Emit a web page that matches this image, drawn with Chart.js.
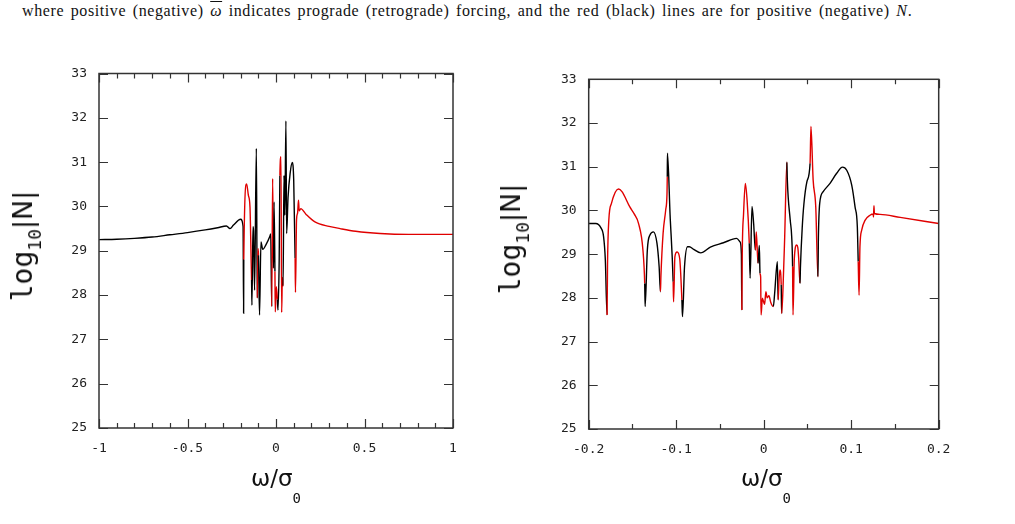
<!DOCTYPE html>
<html>
<head>
<meta charset="utf-8">
<script src="https://cdn.jsdelivr.net/npm/chart.js@4.4.1/dist/chart.umd.min.js"></script>
<style>
  body { margin: 0; width: 1015px; height: 524px; overflow: hidden; background: #fff; position: relative; }
  canvas { position: absolute; left: 0; top: 0; }
  .caption { position: absolute; left: 22px; top: 2px; font-family: "Liberation Serif", serif; font-size: 16px; white-space: nowrap; color: #111; letter-spacing: 0.6px; word-spacing: 2px; }
  .caption .bar { text-decoration: overline; font-style: italic; }
  .ytitle { position: absolute; transform: translate(-50%, -50%) rotate(-90deg); white-space: nowrap; color: #111; line-height: 28px; }
  .ytitle .log { font-family: "DejaVu Sans Mono", monospace; font-size: 28px; }
  .ytitle .sub { font-family: "DejaVu Sans Mono", monospace; font-size: 18px; position: relative; top: 9px; }
  .ytitle .n { font-family: "DejaVu Sans", sans-serif; font-size: 27px; }
  .xtitle { position: absolute; transform: translateX(-50%); font-family: "DejaVu Sans", sans-serif; font-size: 23px; white-space: nowrap; color: #111; line-height: 26px; }
  .xtitle .sub { font-family: "DejaVu Sans Mono", monospace; font-size: 14px; position: relative; top: 17px; }
</style>
</head>
<body>
<div class="caption">where positive (negative) <span class="bar">ω</span> indicates prograde (retrograde) forcing, and the red (black) lines are for positive (negative) <i>N</i>.</div>
<canvas id="chart-left" width="1015" height="524"></canvas>
<canvas id="chart-right" width="1015" height="524"></canvas>
<div class="ytitle" style="left:25px; top:246px;"><span class="log">log</span><span class="sub">10</span><span class="n">|N|</span></div>
<div class="ytitle" style="left:513px; top:239px;"><span class="log">log</span><span class="sub">10</span><span class="n">|N|</span></div>
<div class="xtitle" style="left:276px; top:465px;">ω/σ<span class="sub">0</span></div>
<div class="xtitle" style="left:766px; top:465px;">ω/σ<span class="sub">0</span></div>
<script>
const RED = '#e00000';
const BLACK = '#000000';

// Left panel: -1 .. 1
const leftOmega = [
  -1.00, -0.90, -0.80, -0.70, -0.60, -0.50, -0.40, -0.33, -0.28, -0.26, -0.24, -0.20,
  -0.186, -0.183, -0.182, -0.166, -0.156, -0.147, -0.140, -0.138, -0.136, -0.130, -0.127,
  -0.121, -0.111, -0.106, -0.102, -0.099, -0.093, -0.085, -0.075, -0.055, -0.035, -0.030,
  -0.024, -0.019, -0.014, -0.011, -0.006, -0.004, 0.002, 0.008, 0.011, 0.018, 0.022,
  0.028, 0.032, 0.036, 0.040, 0.045, 0.050, 0.056, 0.060, 0.068, 0.080, 0.092, 0.100,
  0.108, 0.110, 0.116, 0.122, 0.127, 0.131, 0.140, 0.170, 0.220, 0.300, 0.362, 0.450,
  0.588, 0.750, 1.000
];
const leftLogN = [
  29.25, 29.26, 29.28, 29.31, 29.36, 29.41, 29.47, 29.52, 29.56, 29.50, 29.58, 29.71,
  29.55, 27.59, 28.80, 30.51, 30.25, 29.99, 28.70, 28.34, 27.77, 29.54, 29.45,
  28.11, 31.31, 27.93, 29.05, 28.90, 27.55, 29.20, 29.03, 29.15, 29.32, 29.38,
  27.74, 30.63, 28.60, 30.10, 28.53, 27.62, 28.19, 27.90, 27.66, 28.80, 30.70,
  31.12, 27.61, 28.40, 28.20, 30.70, 29.80, 31.93, 29.39, 30.20, 30.75, 30.99, 30.60,
  28.83, 28.06, 29.70, 29.85, 30.14, 29.90, 29.95, 29.82, 29.65, 29.55, 29.50, 29.44,
  29.39, 29.37, 29.37
];
// +1 = positive N (red), -1 = negative N (black)
const leftSign = [
  -1, -1, -1, -1, -1, -1, -1, -1, -1, -1, -1, -1,
  -1, -1, -1, 1, 1, 1, 1, 1, -1, -1, -1,
  -1, -1, -1, 1, 1, -1, -1, -1, -1, -1, -1,
  -1, 1, 1, -1, -1, 1, 1, 1, -1, -1, -1,
  1, 1, 1, 1, -1, -1, -1, -1, -1, -1, -1, -1,
  -1, 1, 1, 1, 1, 1, 1, 1, 1, 1, 1, 1,
  1, 1, 1
];

// Right panel: -0.2 .. 0.2
const rightOmega = [
  -0.200, -0.192, -0.186, -0.183, -0.181, -0.179, -0.1785, -0.177, -0.174, -0.166, -0.162,
  -0.153, -0.148, -0.143, -0.138, -0.136, -0.1355, -0.133, -0.130, -0.126, -0.122, -0.1195,
  -0.118, -0.1175, -0.115, -0.112, -0.1105, -0.1102, -0.110, -0.107, -0.1035, -0.103, -0.1015,
  -0.099, -0.096, -0.0935, -0.0928, -0.0905, -0.087, -0.085, -0.080, -0.072, -0.061, -0.046,
  -0.031, -0.027, -0.0255, -0.025, -0.0245, -0.023, -0.021, -0.019, -0.0165, -0.0155, -0.0134,
  -0.0115, -0.0095, -0.0085, -0.0065, -0.005, -0.0042, -0.0035, -0.003, -0.0015, 0.001, 0.0025,
  0.004, 0.006, 0.008, 0.011, 0.0125, 0.0156, 0.0165, 0.0175, 0.0185, 0.020, 0.0205,
  0.022, 0.024, 0.0265, 0.027, 0.0303, 0.032, 0.033, 0.0335, 0.035, 0.0377, 0.039,
  0.040, 0.0415, 0.042, 0.044, 0.046, 0.0494, 0.053, 0.054, 0.0565, 0.0595, 0.062,
  0.0625, 0.064, 0.068, 0.0758, 0.0834, 0.090, 0.0949, 0.1006, 0.1044, 0.107, 0.108,
  0.109, 0.110, 0.112, 0.116, 0.1215, 0.125, 0.1255, 0.126, 0.1265, 0.133, 0.156, 0.200
];
const rightLogN = [
  29.70, 29.70, 29.60, 29.40, 28.87, 27.61, 28.75, 29.78, 30.16, 30.49, 30.43,
  30.08, 29.92, 29.70, 29.09, 28.33, 27.80, 29.09, 29.44, 29.51, 29.25, 28.71,
  28.14, 28.48, 29.47, 30.01, 30.39, 30.77, 31.31, 29.90, 28.37, 27.91, 28.94,
  29.05, 28.90, 27.95, 27.57, 28.71, 29.17, 29.17, 29.11, 29.03, 29.16, 29.26,
  29.36, 29.28, 29.00, 27.72, 29.02, 29.93, 30.62, 30.24, 29.25, 28.45, 30.09,
  29.70, 29.09, 29.51, 28.79, 29.20, 28.56, 28.48, 27.61, 27.99, 27.85, 28.14,
  28.00, 28.05, 27.90, 27.80, 28.10, 28.83, 27.95, 28.40, 28.64, 28.30, 27.64,
  28.18, 29.40, 31.11, 30.70, 29.78, 29.40, 28.71, 27.61, 28.90, 29.21, 29.15,
  28.90, 28.33, 28.71, 29.60, 30.16, 30.66, 31.08, 31.92, 30.70, 30.08, 28.48,
  29.36, 30.16, 30.43, 30.62, 30.85, 30.99, 30.92, 30.58, 30.08, 29.63, 28.83,
  28.06, 29.17, 29.55, 29.78, 29.89, 29.92, 29.85, 30.11, 29.93, 29.91, 29.84, 29.70
];
const rightSign = [
  -1, -1, -1, -1, -1, -1, 1, 1, 1, 1, 1,
  1, 1, 1, 1, 1, -1, -1, -1, -1, -1, -1,
  -1, 1, 1, 1, 1, 1, -1, -1, -1, 1, 1,
  1, 1, 1, -1, -1, -1, -1, -1, -1, -1, -1,
  -1, -1, -1, -1, 1, 1, 1, 1, 1, -1, -1,
  -1, -1, 1, 1, -1, -1, 1, 1, 1, 1, 1,
  1, 1, 1, 1, -1, -1, -1, 1, 1, 1, -1,
  1, 1, 1, -1, -1, -1, -1, 1, 1, 1, 1,
  1, 1, -1, -1, -1, -1, -1, 1, 1, 1, 1,
  -1, -1, -1, -1, -1, -1, -1, -1, -1, -1, -1,
  1, 1, 1, 1, 1, 1, 1, 1, 1, 1, 1, 1
];

// Tick values
const yTicks = [25, 26, 27, 28, 29, 30, 31, 32, 33];
const leftXTicks = [-1, -0.5, 0, 0.5, 1];
const leftXMinor = [-0.9, -0.8, -0.7, -0.6, -0.4, -0.3, -0.2, -0.1, 0.1, 0.2, 0.3, 0.4, 0.6, 0.7, 0.8, 0.9];
const rightXTicks = [-0.2, -0.1, 0, 0.1, 0.2];
const rightXMinor = [-0.15, -0.05, 0.05, 0.15];

// gnuplot-style frame with inward ticks on all four sides
const framePlugin = {
  id: 'frame',
  afterDraw(chart, args, opts) {
    const { ctx, chartArea: a, scales: { x, y } } = chart;
    ctx.save();
    ctx.strokeStyle = '#333';
    ctx.lineWidth = 1.5;
    ctx.strokeRect(a.left, a.top, a.right - a.left, a.bottom - a.top);
    ctx.lineWidth = 1.2;
    ctx.beginPath();
    const xTick = (vals, len) => vals.forEach(v => {
      const px = Math.round(x.getPixelForValue(v)) + 0.5;
      ctx.moveTo(px, a.bottom); ctx.lineTo(px, a.bottom - len);
      ctx.moveTo(px, a.top); ctx.lineTo(px, a.top + len);
    });
    xTick(opts.major, 9);
    xTick(opts.minor, 5);
    yTicks.forEach(v => {
      const py = Math.round(y.getPixelForValue(v)) + 0.5;
      ctx.moveTo(a.left, py); ctx.lineTo(a.left + 9, py);
      ctx.moveTo(a.right, py); ctx.lineTo(a.right - 9, py);
    });
    ctx.stroke();
    ctx.restore();
  }
};

function makeChart(id, omega, logN, sign, xMin, xMax, xTicks, xMinor, pad) {
  return new Chart(document.getElementById(id), {
    type: 'line',
    data: {
      datasets: [{
        data: omega.map((w, i) => ({ x: w, y: logN[i] })),
        borderColor: BLACK,
        borderWidth: 1.4,
        pointRadius: 0,
        cubicInterpolationMode: 'monotone',
        segment: {
          borderColor: c => sign[c.p1DataIndex] > 0 ? RED : BLACK
        }
      }]
    },
    options: {
      responsive: false,
      animation: false,
      events: [],
      layout: { padding: pad },
      plugins: {
        legend: { display: false },
        tooltip: { enabled: false },
        frame: { major: xTicks, minor: xMinor }
      },
      scales: {
        x: {
          type: 'linear', min: xMin, max: xMax,
          grid: { display: false, drawTicks: false },
          border: { display: false },
          afterBuildTicks: s => { s.ticks = xTicks.map(v => ({ value: v })); },
          afterFit: s => { s.height = 40; },
          ticks: {
            font: { family: 'DejaVu Sans Mono', size: 13 }, color: '#222',
            padding: 13, maxRotation: 0, autoSkip: false,
            callback: v => String(v)
          }
        },
        y: {
          type: 'linear', min: 25, max: 33,
          grid: { display: false, drawTicks: false },
          border: { display: false },
          afterBuildTicks: s => { s.ticks = yTicks.map(v => ({ value: v })); },
          afterFit: s => { s.width = 40; },
          ticks: {
            font: { family: 'DejaVu Sans Mono', size: 13 }, color: '#222',
            padding: 12, callback: v => String(v)
          }
        }
      }
    },
    plugins: [framePlugin]
  });
}

makeChart('chart-left', leftOmega, leftLogN, leftSign, -1, 1, leftXTicks, leftXMinor,
  { left: 59, right: 562, top: 73.5, bottom: 56 });
makeChart('chart-right', rightOmega, rightLogN, rightSign, -0.2, 0.2, rightXTicks, rightXMinor,
  { left: 548.7, right: 76.3, top: 79.3, bottom: 55 });
</script>
</body>
</html>
